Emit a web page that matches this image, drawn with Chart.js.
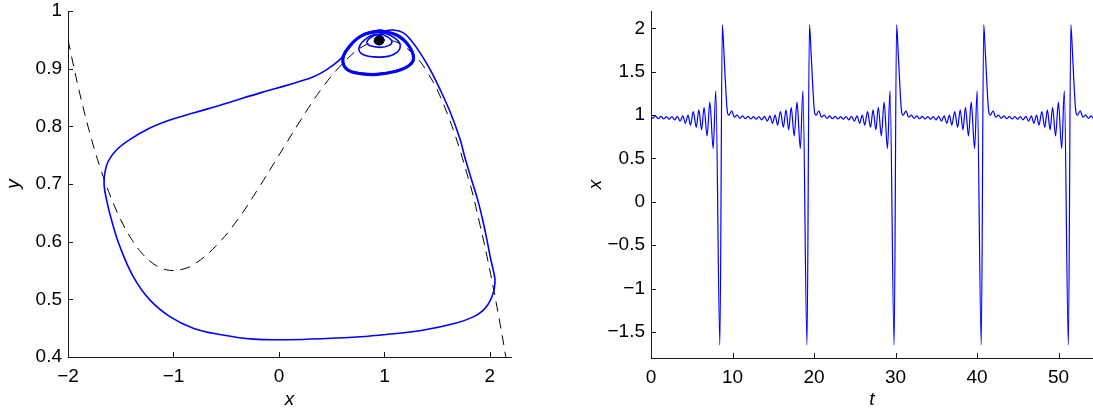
<!DOCTYPE html>
<html>
<head>
<meta charset="utf-8">
<script src="https://cdn.jsdelivr.net/npm/chart.js@4/dist/chart.umd.min.js"></script>
<style>
  html, body { margin: 0; padding: 0; background: #fff; overflow: hidden; }
  #wrapL { position: absolute; left: 0; top: 0; width: 546px; height: 410px; }
  #wrapR { position: absolute; left: 546px; top: 0; width: 547px; height: 410px; }
  canvas { display: block; }
</style>
</head>
<body>
<div id="wrapL"><canvas id="cL" width="546" height="410" style="width:546px;height:410px"></canvas></div>
<div id="wrapR"><canvas id="cR" width="547" height="410" style="width:547px;height:410px"></canvas></div>
<script>
// ---------------- DATA ----------------
// Left panel: phase plane (x, y)
const phaseXTicks = [-2, -1, 0, 1, 2];
const phaseYTicks = [0.4, 0.5, 0.6, 0.7, 0.8, 0.9, 1];

// dashed nullcline
const nullcline = [
  [-2.0, 0.950], [-1.9, 0.866], [-1.8, 0.793], [-1.7, 0.731], [-1.6, 0.680],
  [-1.5, 0.638], [-1.4, 0.605], [-1.3, 0.580], [-1.2, 0.563], [-1.1, 0.553],
  [-1.0, 0.550], [-0.9, 0.553], [-0.8, 0.561], [-0.6, 0.592], [-0.4, 0.636],
  [-0.2, 0.691], [0.0, 0.750], [0.2, 0.809], [0.4, 0.864], [0.6, 0.908],
  [0.8, 0.939], [1.0, 0.950], [1.2, 0.937], [1.4, 0.896], [1.6, 0.820],
  [1.8, 0.707], [1.9, 0.634], [2.0, 0.550], [2.1, 0.454], [2.15, 0.401], [2.2, 0.345]
];

// trajectory spiralling out of the equilibrium
const spiralOut = [
  [0.951, 0.951], [0.965, 0.957], [0.930, 0.955], [0.905, 0.950], [0.915, 0.944],
  [0.950, 0.942], [0.985, 0.945], [0.995, 0.951], [0.960, 0.958],
  [0.900, 0.957], [0.835, 0.947], [0.860, 0.940], [0.960, 0.937], [1.040, 0.940],
  [1.071, 0.947], [1.030, 0.955], [0.960, 0.960],
  [0.850, 0.955], [0.758, 0.936], [0.800, 0.924], [0.960, 0.920], [1.090, 0.925],
  [1.150, 0.938], [1.100, 0.953], [0.960, 0.963],
  [0.780, 0.956], [0.640, 0.932], [0.610, 0.912], [0.660, 0.898], [0.790, 0.892],
  [0.930, 0.891], [1.100, 0.896], [1.230, 0.905], [1.276, 0.918], [1.230, 0.940],
  [1.120, 0.958], [0.960, 0.966]
];

// large excursion (relaxation loop) and return to the focus
const excursion = [
  [0.820, 0.961], [0.720, 0.948], [0.650, 0.932], [0.580, 0.916], [0.450, 0.898],
  [0.327, 0.886], [0.200, 0.878], [0.074, 0.871], [-0.179, 0.858], [-0.496, 0.840], [-0.813, 0.823],
  [-1.034, 0.811], [-1.224, 0.797], [-1.414, 0.777], [-1.540, 0.759], [-1.620, 0.739],
  [-1.651, 0.719], [-1.658, 0.699], [-1.635, 0.673], [-1.588, 0.638], [-1.509, 0.592],
  [-1.383, 0.540], [-1.224, 0.499], [-1.034, 0.470], [-0.813, 0.450], [-0.562, 0.439],
  [-0.243, 0.431], [0.074, 0.430], [0.454, 0.432], [0.770, 0.435], [1.015, 0.439],
  [1.349, 0.446], [1.682, 0.459], [1.848, 0.470], [1.930, 0.480], [1.985, 0.492],
  [2.020, 0.505], [2.043, 0.520], [2.048, 0.535], [2.030, 0.552], [2.005, 0.572],
  [1.975, 0.600], [1.935, 0.635], [1.885, 0.672], [1.818, 0.712], [1.757, 0.750],
  [1.718, 0.777], [1.627, 0.823], [1.530, 0.863], [1.435, 0.898], [1.340, 0.927],
  [1.261, 0.947], [1.181, 0.962], [1.086, 0.967], [1.000, 0.965], [0.960, 0.960], [0.955, 0.954]
];

// outermost small loop, traced several times (drawn thick)
const outerLoop = [
  [0.960, 0.966], [0.780, 0.957], [0.640, 0.932], [0.606, 0.912], [0.660, 0.897],
  [0.790, 0.891], [0.930, 0.890], [1.100, 0.895], [1.230, 0.905], [1.276, 0.918],
  [1.230, 0.940], [1.120, 0.958], [0.960, 0.966]
];

const equilibrium = [[0.951, 0.949]];

// Right panel: time series x(t)
const timeTicks = [0, 10, 20, 30, 40, 50];
const xTicks = [-1.5, -1, -0.5, 0, 0.5, 1, 1.5, 2];

const seriesStart = [
  [0.00, 0.98], [0.21, 0.963], [0.55, 0.99], [0.88, 0.958], [1.22, 0.985], [1.55, 0.955],
  [1.89, 0.982], [2.22, 0.952], [2.56, 0.982], [2.89, 0.945], [3.23, 0.985], [3.57, 0.93],
  [3.90, 0.99], [4.22, 0.905], [4.54, 1.0], [4.84, 0.885], [5.19, 1.04], [5.55, 0.86],
  [5.87, 1.06], [6.21, 0.83], [6.51, 1.09], [6.88, 0.76], [7.22, 1.15], [7.63, 0.615], [7.95, 1.28]
];
const cycle1 = [
  [8.45, -1.65], [8.75, 2.04], [8.95, 1.72], [9.12, 1.40], [9.28, 1.135], [9.40, 1.02], [9.56, 1.0],
  [9.90, 1.05], [10.23, 0.975], [10.57, 1.0], [10.90, 0.963], [11.24, 0.99], [11.57, 0.958],
  [11.91, 0.985], [12.24, 0.955], [12.58, 0.982], [12.91, 0.952], [13.25, 0.982], [13.58, 0.945],
  [13.92, 0.985], [14.26, 0.93], [14.59, 0.99], [14.91, 0.905], [15.23, 1.0], [15.53, 0.885],
  [15.88, 1.04], [16.24, 0.86], [16.56, 1.06], [16.90, 0.83], [17.20, 1.09], [17.57, 0.76],
  [17.91, 1.15], [18.32, 0.615], [18.64, 1.28]
];
const cycle2 = [
  [19.14, -1.65], [19.44, 2.04], [19.64, 1.72], [19.81, 1.40], [19.97, 1.135], [20.09, 1.02], [20.25, 1.0],
  [20.59, 1.05], [20.92, 0.975], [21.26, 1.0], [21.59, 0.963], [21.93, 0.99], [22.26, 0.958],
  [22.60, 0.985], [22.93, 0.955], [23.27, 0.982], [23.60, 0.952], [23.94, 0.982], [24.27, 0.945],
  [24.61, 0.985], [24.95, 0.93], [25.28, 0.99], [25.60, 0.905], [25.92, 1.0], [26.22, 0.885],
  [26.57, 1.04], [26.93, 0.86], [27.25, 1.06], [27.59, 0.83], [27.89, 1.09], [28.26, 0.76],
  [28.60, 1.15], [29.01, 0.615], [29.33, 1.28]
];
const cycle3 = [
  [29.83, -1.65], [30.13, 2.04], [30.33, 1.72], [30.50, 1.40], [30.66, 1.135], [30.78, 1.02], [30.94, 1.0],
  [31.28, 1.05], [31.61, 0.975], [31.95, 1.0], [32.28, 0.963], [32.62, 0.99], [32.95, 0.958],
  [33.29, 0.985], [33.62, 0.955], [33.96, 0.982], [34.29, 0.952], [34.63, 0.982], [34.96, 0.945],
  [35.30, 0.985], [35.64, 0.93], [35.97, 0.99], [36.29, 0.905], [36.61, 1.0], [36.91, 0.885],
  [37.26, 1.04], [37.62, 0.86], [37.94, 1.06], [38.28, 0.83], [38.58, 1.09], [38.95, 0.76],
  [39.29, 1.15], [39.70, 0.615], [40.02, 1.28]
];
const cycle4 = [
  [40.52, -1.65], [40.82, 2.04], [41.02, 1.72], [41.19, 1.40], [41.35, 1.135], [41.47, 1.02], [41.63, 1.0],
  [41.97, 1.05], [42.30, 0.975], [42.64, 1.0], [42.97, 0.963], [43.31, 0.99], [43.64, 0.958],
  [43.98, 0.985], [44.31, 0.955], [44.65, 0.982], [44.98, 0.952], [45.32, 0.982], [45.65, 0.945],
  [45.99, 0.985], [46.33, 0.93], [46.66, 0.99], [46.98, 0.905], [47.30, 1.0], [47.60, 0.885],
  [47.95, 1.04], [48.31, 0.86], [48.63, 1.06], [48.97, 0.83], [49.27, 1.09], [49.64, 0.76],
  [49.98, 1.15], [50.39, 0.615], [50.71, 1.28]
];
const cycle5 = [
  [51.21, -1.65], [51.51, 2.04], [51.71, 1.72], [51.88, 1.40], [52.04, 1.135], [52.16, 1.02], [52.32, 1.0],
  [52.66, 1.05], [52.99, 0.975], [53.33, 1.0], [53.66, 0.963], [54.00, 0.99], [54.33, 0.958], [54.67, 0.985]
];

// ---------------- CHARTS ----------------
Chart.defaults.font.family = "'Liberation Sans', Arial, Helvetica, sans-serif";
Chart.defaults.color = '#000';

const pts = arr => arr.map(p => ({ x: p[0], y: p[1] }));
const fmt = v => String(v).replace('-', '\u2212');
const AXIS = '#1a1a1a';
const FS = 19;

const inwardTicks = {
  id: 'inwardTicks',
  afterDatasetsDraw(chart, args, opts) {
    const ctx = chart.ctx, a = chart.chartArea, L = opts.len || 5;
    const xs = chart.scales.x, ys = chart.scales.y;
    ctx.save();
    ctx.strokeStyle = AXIS;
    ctx.lineWidth = 1;
    ctx.beginPath();
    xs.ticks.forEach(t => {
      const p = Math.round(xs.getPixelForValue(t.value)) + 0.5;
      ctx.moveTo(p, a.bottom); ctx.lineTo(p, a.bottom - L);
    });
    ys.ticks.forEach(t => {
      const p = Math.round(ys.getPixelForValue(t.value)) + 0.5;
      ctx.moveTo(a.left, p); ctx.lineTo(a.left + L, p);
    });
    ctx.stroke();
    ctx.restore();
  }
};

// fix the scale box size and drop Chart.js' automatic label padding
function fixBox(horizontal, size) {
  return s => {
    if (horizontal) s.height = size; else s.width = size;
    s.paddingTop = 0; s.paddingBottom = 0; s.paddingLeft = 0; s.paddingRight = 0;
  };
}

function axisOpts(o) {
  return {
    type: 'linear',
    min: o.min, max: o.max,
    afterBuildTicks: s => { s.ticks = o.ticks.map(v => ({ value: v })); },
    afterFit: o.fit,
    grid: { display: false, drawTicks: false },
    border: { display: true, color: AXIS, width: 1 },
    ticks: { padding: o.pad, font: { size: FS }, color: '#000', callback: v => fmt(v), maxRotation: 0, autoSkip: false },
    title: { display: true, text: o.title, color: '#000', font: { size: FS, style: 'italic' }, padding: o.titlePad }
  };
}

new Chart(document.getElementById('cL'), {
  type: 'scatter',
  data: {
    datasets: [
      { data: pts(nullcline), showLine: true, borderColor: '#000', borderWidth: 1, borderDash: [10, 7],
        pointRadius: 0, tension: 0.4, order: 4 },
      { data: pts(spiralOut.concat(excursion)), showLine: true, borderColor: '#0000ff', borderWidth: 1.6,
        pointRadius: 0, tension: 0.4, order: 3 },
      { data: pts(outerLoop), showLine: true, borderColor: '#0000ff', borderWidth: 3.2,
        pointRadius: 0, tension: 0.4, order: 2 },
      { data: pts(equilibrium), showLine: false, pointRadius: 5, pointBackgroundColor: '#000',
        pointBorderColor: '#000', pointBorderWidth: 0, order: 1 }
    ]
  },
  options: {
    responsive: false, animation: false, devicePixelRatio: 1, events: [],
    layout: { padding: { left: 0, top: 11, right: 35, bottom: 0 } },
    plugins: { legend: { display: false }, tooltip: { enabled: false }, inwardTicks: { len: 5 } },
    scales: {
      x: axisOpts({ min: -2, max: 2.2, ticks: phaseXTicks, fit: fixBox(true, 53), pad: 8,
                    title: 'x', titlePad: { top: 0, bottom: -1 } }),
      y: axisOpts({ min: 0.4, max: 1, ticks: phaseYTicks, fit: fixBox(false, 68), pad: 6,
                    title: 'y', titlePad: { top: 2, bottom: 0 } })
    }
  },
  plugins: [inwardTicks]
});

new Chart(document.getElementById('cR'), {
  type: 'scatter',
  data: {
    datasets: [
      { data: pts(seriesStart.concat(cycle1, cycle2, cycle3, cycle4, cycle5)), showLine: true,
        borderColor: '#0000ff', borderWidth: 1.2, pointRadius: 0, cubicInterpolationMode: 'monotone' }
    ]
  },
  options: {
    responsive: false, animation: false, devicePixelRatio: 1, events: [],
    layout: { padding: { left: 0, top: 11, right: 0, bottom: 0 } },
    plugins: { legend: { display: false }, tooltip: { enabled: false }, inwardTicks: { len: 5 } },
    scales: {
      x: axisOpts({ min: 0, max: 54.23, ticks: timeTicks, fit: fixBox(true, 52), pad: 8,
                    title: 't', titlePad: { top: 0, bottom: -1 } }),
      y: axisOpts({ min: -1.8, max: 2.2, ticks: xTicks, fit: fixBox(false, 105), pad: 6,
                    title: 'x', titlePad: { top: 38, bottom: 0 } })
    }
  },
  plugins: [inwardTicks]
});
</script>
</body>
</html>
